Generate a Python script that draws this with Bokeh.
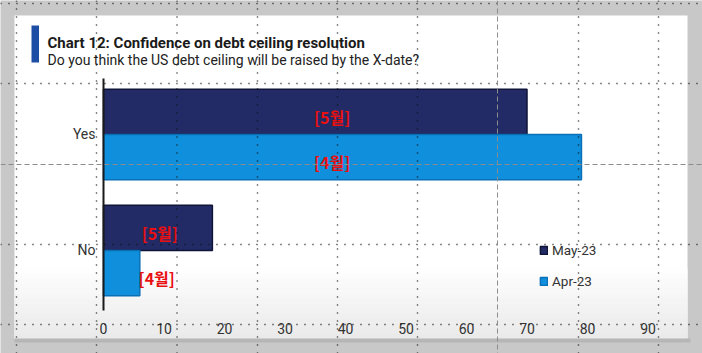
from bokeh.plotting import figure
from bokeh.models import (ColumnDataSource, Range1d, BoxAnnotation, Label,
                          Legend, LegendItem, FixedTicker, Arrow)
from bokeh.transform import dodge
from bokeh.core.properties import value
from bokeh.embed import file_html
from bokeh.resources import INLINE

# ---------------- data ----------------
categories = ["No", "Yes"]
may_23 = [18, 70]
apr_23 = [6, 79]
series_names = ["May-23", "Apr-23"]
x_ticks = [0, 10, 20, 30, 40, 50, 60, 70, 80, 90]
title_text = "Chart 12: Confidence on debt ceiling resolution"
subtitle_text = "Do you think the US debt ceiling will be raised by the X-date?"
note_may_text = ["[5월]", "[5월]"]
note_apr_text = ["[4월]", "[4월]"]

# annotation positions (not data)
note_may_x = [9.3, 37.8]
note_apr_x = [8.8, 37.8]

# category slots on the value axis (library-style categorical centers)
cat_pos = [i + 0.5 for i in range(len(categories))]

FONT = "Roboto"
NAVY = "#222b66"
NAVY_LINE = "#0f1438"
BLUE = "#0f8fdc"
BLUE_LINE = "#0a6fb5"
W, H = 702, 353


def sy(cy):  # canvas-y (from top) -> screen units (from bottom)
    return H - cy


p = figure(width=W, height=H,
           x_range=Range1d(-103 / 6.05, (W - 103) / 6.05),
           y_range=Range1d(-0.388, 2.655),
           output_backend="svg", toolbar_location=None,
           min_border=0, min_border_left=0, min_border_right=0,
           min_border_top=0, min_border_bottom=0,
           background_fill_color="#c8c8c8", border_fill_color="#c8c8c8",
           outline_line_color=None)
p.title.visible = False


def box(l, r, t, b, color, level="underlay"):
    p.add_layout(BoxAnnotation(left=l, right=r, top=sy(t), bottom=sy(b),
                               left_units="screen", right_units="screen",
                               top_units="screen", bottom_units="screen",
                               fill_color=color, fill_alpha=1, line_color=None, level=level))


# white panel with a soft grey fade at the bottom, and its shadow
box(14, 687, 15, 338, "white")
n_steps = 14
top_fade, bot_fade = 268, 338
for i in range(n_steps):
    t = top_fade + (bot_fade - top_fade) * i / n_steps
    b = top_fade + (bot_fade - top_fade) * (i + 1) / n_steps
    g = int(round(255 - (255 - 234) * (i + 1) / n_steps))
    box(14, 687, t, b + 0.5, "#%02x%02x%02x" % (g, g, g))
box(14, 690, 338, 342, "#b6b6b6")
# title accent bar
box(31, 38.5, 25, 62, "#1c4ea5", level="annotation")

p.add_layout(Label(x=47, y=sy(42), x_units="screen", y_units="screen", text=title_text,
                   text_font=FONT, text_font_style="bold", text_font_size="15px",
                   text_color="#1a1a1a", text_baseline="alphabetic"))
p.add_layout(Label(x=47, y=sy(59.5), x_units="screen", y_units="screen", text=subtitle_text,
                   text_font=FONT, text_font_size="14px",
                   text_color="#222222", text_baseline="alphabetic"))

# bars
src = ColumnDataSource(dict(cat=categories, pos=cat_pos, may=may_23, apr=apr_23))
r_may = p.hbar(y=dodge("pos", 0.195), left=0, right="may", height=0.39, source=src,
               fill_color=NAVY, line_color=NAVY_LINE, line_width=1.5)
r_apr = p.hbar(y=dodge("pos", -0.195), left=0, right="apr", height=0.39, source=src,
               fill_color=BLUE, line_color=BLUE_LINE, line_width=1.5)

# red notes
nm = ColumnDataSource(dict(x=note_may_x, pos=cat_pos, text=note_may_text))
na = ColumnDataSource(dict(x=note_apr_x, pos=cat_pos, text=note_apr_text))
for s, off in [(nm, 0.195), (na, -0.195)]:
    p.text(x="x", y=dodge("pos", off), text="text", source=s,
           text_font=value("Noto Sans CJK KR"), text_font_style="bold", text_font_size="16px",
           text_color="#e81010", text_align="center", text_baseline="middle", y_offset=5)

# axes (pinned inside the canvas)
xa = p.xaxis[0]
xa.fixed_location = 0
xa.ticker = FixedTicker(ticks=x_ticks)
xa.axis_line_color = None
xa.major_tick_line_color = None
xa.minor_tick_line_color = None
xa.major_label_standoff = 9
xa.major_label_text_font = FONT
xa.major_label_text_font_size = "14px"
xa.major_label_text_color = "#333333"

ya = p.yaxis[0]
ya.fixed_location = 0
ya.bounds = (-0.02, 1.98)
ya.ticker = FixedTicker(ticks=cat_pos)
ya.major_label_overrides = {pos: c for pos, c in zip(cat_pos, categories)}
ya.axis_line_color = "#1a1a1a"
ya.axis_line_width = 2
ya.major_tick_line_color = None
ya.minor_tick_line_color = None
ya.major_tick_out = 0
ya.major_label_standoff = 8
ya.major_label_text_font = FONT
ya.major_label_text_font_size = "14px"
ya.major_label_text_color = "#333333"

p.xgrid.grid_line_color = None
p.ygrid.grid_line_color = None

legend = Legend(items=[LegendItem(label=series_names[0], renderers=[r_may]),
                       LegendItem(label=series_names[1], renderers=[r_apr])],
                location=(539, 62), padding=0, margin=0, spacing=11,
                glyph_width=9, glyph_height=10, label_standoff=4, label_height=20,
                label_text_font=FONT, label_text_font_size="13.5px", label_text_color="#333333",
                background_fill_alpha=0, border_line_color=None)
p.add_layout(legend)

# screen-capture guide overlay (dotted grid)
for cx in [16, 96, 176.5, 257, 337, 417, 578, 658]:
    p.add_layout(Arrow(x_start=cx, y_start=sy(0), x_end=cx, y_end=sy(H),
                       start_units="screen", end_units="screen", end=None,
                       line_color="#111111", line_width=1.4, line_dash="1 7", level="overlay"))
for cy in [3, 83, 244, 324]:
    p.add_layout(Arrow(x_start=0, y_start=sy(cy), x_end=W, y_end=sy(cy),
                       start_units="screen", end_units="screen", end=None,
                       line_color="#111111", line_width=1.4, line_dash="1 7", level="overlay"))
p.add_layout(Arrow(x_start=497, y_start=sy(0), x_end=497, y_end=sy(H),
                   start_units="screen", end_units="screen", end=None,
                   line_color="#8c8c8c", line_width=1, line_dash="5 3", level="overlay"))
p.add_layout(Arrow(x_start=0, y_start=sy(164), x_end=W, y_end=sy(164),
                   start_units="screen", end_units="screen", end=None,
                   line_color="#8c8c8c", line_width=1, line_dash="5 3", level="overlay"))

open("out.html", "w").write(file_html(p, INLINE))
